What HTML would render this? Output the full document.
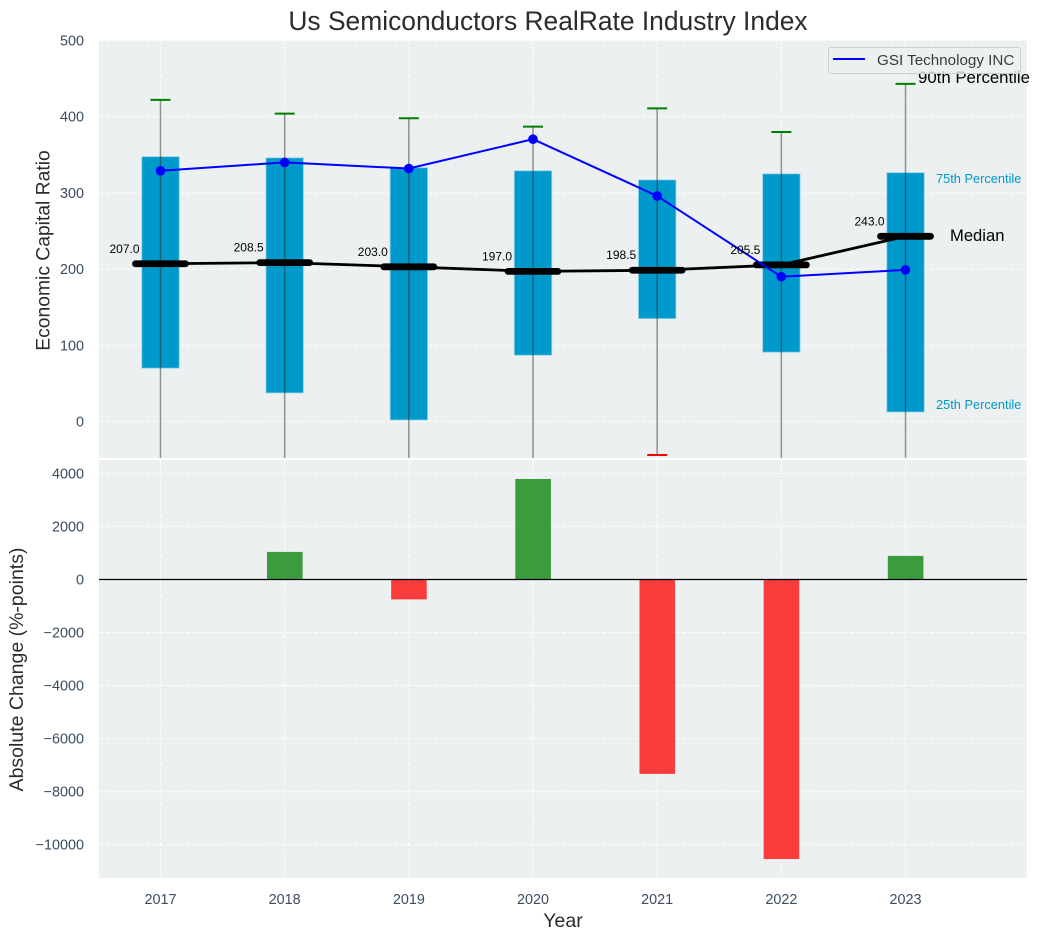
<!DOCTYPE html>
<html lang="en">
<head>
<meta charset="utf-8">
<title>Us Semiconductors RealRate Industry Index</title>
<style>
html,body{margin:0;padding:0;background:#fff;}
svg{display:block;font-family:"Liberation Sans",Arial,sans-serif;}
</style>
</head>
<body>
<svg id="chart" xmlns="http://www.w3.org/2000/svg" width="1038" height="940" viewBox="0 0 1038 940"></svg>
<script>
const years = [2017, 2018, 2019, 2020, 2021, 2022, 2023];
const q1Values = [70, 37.5, 2, 87, 135, 91, 12.5];
const q3Values = [347.5, 346, 333, 329, 317, 325, 326.5];
const whiskerHigh = [422, 404, 398, 387, 411, 380, 443];
const whiskerLow = [-120, -110, -130, -90, -44, -100, -140];
const medians = [207.0, 208.5, 203.0, 197.0, 198.5, 205.5, 243.0];
const companyValues = [329, 340, 332, 370.5, 296, 190, 199];
const changeValues = [0, 1040, -750, 3790, -7330, -10540, 890];
const topTicks = [0, 100, 200, 300, 400, 500];
const bottomTicks = [-10000, -8000, -6000, -4000, -2000, 0, 2000, 4000];

const svg = document.getElementById('chart');
const NS = 'http://www.w3.org/2000/svg';
const plotLeft = 99, plotRight = 1027;
const topPlotTop = 40, topPlotBottom = 458, botPlotTop = 460, botPlotBottom = 878;

function xScale(year) { return 160.5 + (year - 2017) * 124.17; }
function yTop(v) { return 421.5 - 0.762 * v; }
function yBot(v) { return 579.5 - 0.02652 * v; }

function make(tag, attrs, parent) {
  const el = document.createElementNS(NS, tag);
  for (const k in attrs) el.setAttribute(k, attrs[k]);
  (parent || svg).appendChild(el);
  return el;
}
function label(txt, attrs, parent) {
  const el = make('text', attrs, parent);
  el.textContent = txt;
  return el;
}
function fmtTick(v) { return v < 0 ? '\u2212' + Math.abs(v) : String(v); }

const defs = make('defs', {});
const clipTop = make('clipPath', { id: 'clip-top' }, defs);
make('rect', { x: plotLeft, y: topPlotTop, width: plotRight - plotLeft, height: topPlotBottom - topPlotTop }, clipTop);
const clipBot = make('clipPath', { id: 'clip-bot' }, defs);
make('rect', { x: plotLeft, y: botPlotTop, width: plotRight - plotLeft, height: botPlotBottom - botPlotTop }, clipBot);

/* backgrounds */
const bgTop = make('rect', { x: plotLeft, y: topPlotTop, width: plotRight - plotLeft, height: topPlotBottom - topPlotTop, fill: '#ecf0f1' });


const bgBot = make('rect', { x: plotLeft, y: botPlotTop, width: plotRight - plotLeft, height: botPlotBottom - botPlotTop, fill: '#ecf0f1' });



/* grids */
const gridStyle = { stroke: '#ffffff', 'stroke-width': 1.1, 'stroke-dasharray': '4.5 2.2', opacity: 0.85 };
const gridTop = make('g', { 'clip-path': 'url(#clip-top)' });


const gridBot = make('g', { 'clip-path': 'url(#clip-bot)' });


topTicks.forEach(function (t) {
  const g = make('line', Object.assign({ x1: plotLeft, x2: plotRight, y1: yTop(t), y2: yTop(t) }, gridStyle), gridTop);
  
  
});
bottomTicks.forEach(function (t) {
  const g = make('line', Object.assign({ x1: plotLeft, x2: plotRight, y1: yBot(t), y2: yBot(t) }, gridStyle), gridBot);
  
  
});
years.forEach(function (yr) {
  const a = make('line', Object.assign({ x1: xScale(yr), x2: xScale(yr), y1: topPlotTop, y2: topPlotBottom }, gridStyle), gridTop);
  
  
  const b = make('line', Object.assign({ x1: xScale(yr), x2: xScale(yr), y1: botPlotTop, y2: botPlotBottom }, gridStyle), gridBot);
  
  
});

/* top panel marks */
const topG = make('g', { 'clip-path': 'url(#clip-top)' });



years.forEach(function (yr, i) {
  const cx = xScale(yr);
  const box = make('rect', {
    x: cx - 18.7, width: 37.4,
    y: yTop(q3Values[i]), height: yTop(q1Values[i]) - yTop(q3Values[i]),
    fill: '#0099cc', stroke: '#8fd0e6', 'stroke-width': 0.8
  }, topG);
  
  
});

years.forEach(function (yr, i) {
  const cx = xScale(yr);
  const w = make('line', {
    x1: cx, x2: cx, y1: yTop(whiskerHigh[i]), y2: yTop(whiskerLow[i]),
    stroke: '#2c2c2c', 'stroke-width': 1.5, opacity: 0.5
  }, topG);
  
  
  const capHigh = make('line', {
    x1: cx - 10, x2: cx + 10, y1: yTop(whiskerHigh[i]), y2: yTop(whiskerHigh[i]),
    stroke: '#008000', 'stroke-width': 2
  }, topG);
  
  
  const capLow = make('line', {
    x1: cx - 10, x2: cx + 10, y1: yTop(whiskerLow[i]), y2: yTop(whiskerLow[i]),
    stroke: '#ff0000', 'stroke-width': 2
  }, topG);
  
  
});

years.forEach(function (yr, i) {
  const cx = xScale(yr);
  const m = make('line', {
    x1: cx - 25, x2: cx + 25, y1: yTop(medians[i]), y2: yTop(medians[i]),
    stroke: '#000', 'stroke-width': 6.8, 'stroke-linecap': 'round'
  }, topG);
  
  
});

const medianLine = make('polyline', {
  points: years.map(function (yr, i) { return xScale(yr) + ',' + yTop(medians[i]); }).join(' '),
  fill: 'none', stroke: '#000', 'stroke-width': 2.8
}, topG);



const companyLine = make('polyline', {
  points: years.map(function (yr, i) { return xScale(yr) + ',' + yTop(companyValues[i]); }).join(' '),
  fill: 'none', stroke: '#0000ff', 'stroke-width': 2
}, topG);



years.forEach(function (yr, i) {
  const c = make('circle', { cx: xScale(yr), cy: yTop(companyValues[i]), r: 4.8, fill: '#0000ff' }, topG);
  
  
});

medians.forEach(function (v, i) {
  const t = label(v.toFixed(1), {
    x: xScale(years[i]) - 21, y: yTop(v) - 11, 'text-anchor': 'end', 'font-size': 12, fill: '#000'
  });
  
  
});

/* bottom panel marks */
const botG = make('g', { 'clip-path': 'url(#clip-bot)' });



years.forEach(function (yr, i) {
  const v = changeValues[i];
  if (v === 0) return;
  const y0 = yBot(0), y1 = yBot(v);
  const bar = make('rect', {
    x: xScale(yr) - 17.7, width: 35.6,
    y: Math.min(y0, y1), height: Math.abs(y1 - y0),
    fill: v >= 0 ? '#008000' : '#ff0000', opacity: 0.75
  }, botG);
  
  
});

const zero = make('line', { x1: plotLeft, x2: plotRight, y1: yBot(0), y2: yBot(0), stroke: '#000', 'stroke-width': 1.3 });



/* tick labels */
const tickColor = '#3b4d63';
topTicks.forEach(function (t) {
  const el = label(fmtTick(t), { x: 84, y: yTop(t) + 5, 'text-anchor': 'end', 'font-size': 14.4, fill: tickColor });
  
  
});
bottomTicks.forEach(function (t) {
  const el = label(fmtTick(t), { x: 84, y: yBot(t) + 5, 'text-anchor': 'end', 'font-size': 14.4, fill: tickColor });
  
  
});
years.forEach(function (yr) {
  const el = label(String(yr), { x: xScale(yr), y: 904, 'text-anchor': 'middle', 'font-size': 14.4, fill: tickColor });
  
  
});

/* titles */
const title = label('Us Semiconductors RealRate Industry Index', { x: 548, y: 30, 'text-anchor': 'middle', 'font-size': 26.4, fill: '#2c2c2c' });



const yt = label('Economic Capital Ratio', { x: 0, y: 0, 'text-anchor': 'middle', 'font-size': 19.3, fill: '#2c2c2c', transform: 'translate(49.5 250.5) rotate(-90)' });



const yb = label('Absolute Change (%-points)', { x: 0, y: 0, 'text-anchor': 'middle', 'font-size': 19.5, fill: '#2c2c2c', transform: 'translate(23 669.5) rotate(-90)' });



const xt = label('Year', { x: 563, y: 927, 'text-anchor': 'middle', 'font-size': 19.5, fill: '#2c2c2c' });



/* annotations */
const a90 = label('90th Percentile', { x: 918, y: 83, 'font-size': 16.8, fill: '#000' });


const a75 = label('75th Percentile', { x: 936, y: 183, 'font-size': 12.8, fill: '#0099cc' });


const a25 = label('25th Percentile', { x: 936, y: 409, 'font-size': 12.8, fill: '#0099cc' });


const aMed = label('Median', { x: 950, y: 241, 'font-size': 16.6, fill: '#000' });



/* legend */
const legend = make('g', {});


const legendBox = make('rect', { x: 828.5, y: 47.5, width: 192, height: 26, rx: 2.5, ry: 2.5, fill: '#ecf0f1', 'fill-opacity': 0.8, stroke: '#cfcfcf', 'stroke-width': 1 }, legend);


const legendLine = make('line', { x1: 833, x2: 865, y1: 59, y2: 59, stroke: '#0000ff', 'stroke-width': 2 }, legend);


const legendText = label('GSI Technology INC', { x: 877, y: 65, 'font-size': 15.2, fill: '#3a3a3a' }, legend);


</script>
</body>
</html>
